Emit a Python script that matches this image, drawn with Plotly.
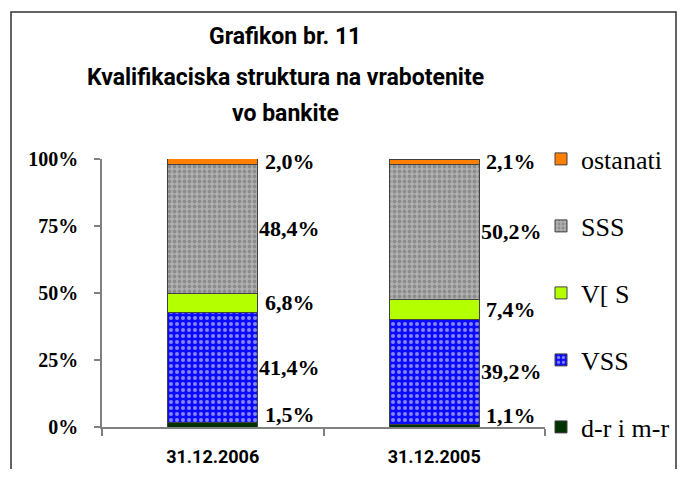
import plotly.graph_objects as go
import numpy as np

categories = ["31.12.2006", "31.12.2005"]
series_names = ["d-r i m-r", "VSS", "V[ S", "SSS", "ostanati"]
v_drimr = [1.5, 1.1]
v_vss = [41.4, 39.2]
v_vs = [6.8, 7.4]
v_sss = [48.4, 50.2]
v_ostanati = [2.0, 2.1]
y_ticks = [0, 25, 50, 75, 100]
y_tick_labels = ["0%", "25%", "50%", "75%", "100%"]
title_lines = ["Grafikon br. 11", "Kvalifikaciska struktura na vrabotenite", "vo bankite"]

series_values = [v_drimr, v_vss, v_vs, v_sss, v_ostanati]

styles = [
    dict(color="#003300"),
    dict(color="#0000ff", pattern=dict(shape=".", bgcolor="#0a0aff", fgcolor="#fffff0", size=6, solidity=0.35)),
    dict(color="#b4ff00"),
    dict(color="#a0a0a0", pattern=dict(shape=".", bgcolor="#b0b0b0", fgcolor="#686868", size=5, solidity=0.45)),
    dict(color="#ff8000"),
]

TITLE_FONT = "Roboto, DejaVu Sans, sans-serif"
SERIF = "Liberation Serif, Times New Roman, serif"

# figure geometry (the page adds an 8px body margin; keep the page inside the window)
W, H = 670, 461
ML, MR, MT, MB = 94, 133, 151, 42
PW, PH = W - ML - MR, H - MT - MB

def px_x(x):  # figure pixel x -> paper
    return (x - ML) / PW

def px_y(y):  # figure pixel y -> paper
    return (H - MB - y) / PH

fig = go.Figure()
legend_names = ["legend", "legend2", "legend3", "legend4", "legend5"]
legend_layouts = {}
for i, (name, vals, st) in enumerate(zip(series_names, series_values, styles)):
    marker = dict(color=st["color"], line=dict(color="#404040", width=1))
    if "pattern" in st:
        marker["pattern"] = st["pattern"]
    fig.add_trace(go.Bar(
        x=categories, y=vals, name=name, marker=marker,
        legend=legend_names[i], hoverinfo="skip",
    ))
    legend_layouts[legend_names[i]] = dict(
        x=px_x(533), xanchor="left", y=y_ticks[i] / 100, yanchor="middle",
        font=dict(family=SERIF, size=26, color="black"),
        itemwidth=30, bgcolor="rgba(0,0,0,0)", borderwidth=0,
    )

# data labels
cum = np.zeros(len(categories))
annotations = []
for si, vals in enumerate(series_values):
    for ci, cat in enumerate(categories):
        mid = cum[ci] + vals[ci] / 2
        annotations.append(dict(
            x=cat, y=mid, xref="x", yref="y",
            text=f"{vals[ci]:.1f}".replace(".", ",") + "%",
            showarrow=False, xanchor="center", yanchor="middle",
            xshift=77, yshift=10 if si == 0 else 0,
            font=dict(family=SERIF, size=22, color="black", weight="bold"),
        ))
    cum += np.array(vals)

# title lines
for k, (line, yc) in enumerate(zip(title_lines, [29, 70, 106])):
    annotations.append(dict(
        x=px_x(277), y=px_y(yc), xref="paper", yref="paper",
        text=line, showarrow=False, xanchor="center", yanchor="middle",
        font=dict(family=TITLE_FONT, size=23, color="black", weight="bold"),
    ))

fig.update_layout(
    width=W, height=H,
    barmode="stack", bargap=0.595,
    paper_bgcolor="white", plot_bgcolor="white",
    margin=dict(l=ML, r=MR, t=MT, b=MB, autoexpand=False),
    showlegend=True,
    annotations=annotations,
    shapes=[dict(type="rect", xref="paper", yref="paper",
                 x0=px_x(3), x1=px_x(668),
                 y0=px_y(H + 40), y1=px_y(4),
                 line=dict(color="#303030", width=1.5), fillcolor="rgba(0,0,0,0)", layer="below")],
    **legend_layouts,
)

fig.update_yaxes(
    range=[0, 100], tickvals=y_ticks, ticktext=y_tick_labels,
    showgrid=False, zeroline=False, automargin=False,
    showline=True, linecolor="#808080", linewidth=1.5,
    ticks="outside", ticklen=6, tickcolor="#808080", tickwidth=1.5,
    ticklabelstandoff=12,
    tickfont=dict(family=SERIF, size=20, color="black", weight="bold"),
)
fig.update_xaxes(
    showgrid=False, automargin=False, showline=True, linecolor="#808080", linewidth=1.5,
    ticks="outside", ticklen=7, tickcolor="#808080", tickwidth=1.5, tickson="boundaries",
    ticklabelstandoff=13,
    tickfont=dict(family=TITLE_FONT, size=18, color="black", weight="bold"),
)

fig.write_html("out.html")
